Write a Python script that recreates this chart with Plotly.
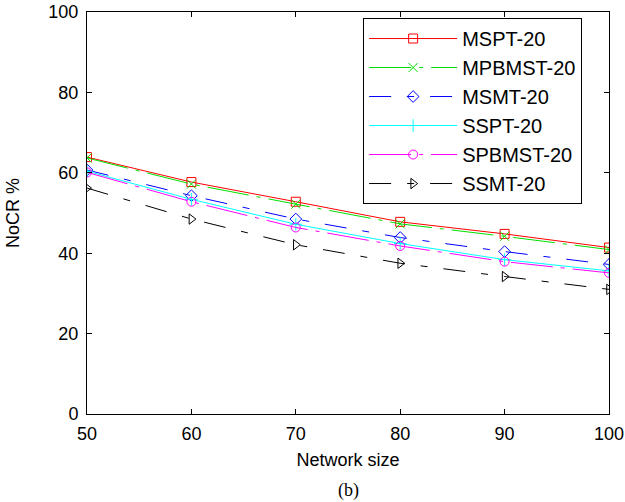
import plotly.graph_objects as go

network_size = [50, 60, 70, 80, 90, 100]
mspt = [63.9, 57.7, 52.8, 47.8, 44.8, 41.4]
mpbmst = [63.7, 57.2, 52.2, 47.3, 44.2, 40.9]
msmt = [60.7, 54.3, 48.5, 43.9, 40.4, 37.2]
sspt = [60.4, 53.4, 47.2, 42.4, 38.4, 35.6]
spbmst = [60.1, 52.8, 46.4, 41.8, 37.9, 35.1]
ssmt = [56.2, 48.5, 42.1, 37.5, 34.2, 31.0]

names = ["MSPT-20", "MPBMST-20", "MSMT-20", "SSPT-20", "SPBMST-20", "SSMT-20"]
series = [mspt, mpbmst, msmt, sspt, spbmst, ssmt]
colors = ["#ff0000", "#00e000", "#0000ff", "#00ffff", "#ff00ff", "#000000"]
symbols = ["square-open", "x-thin-open", "diamond-open", "cross-thin-open", "circle-open", "triangle-right-open"]
dashes = ["solid", "42px,8px,4px,8px", "22px,16px,7px,16px", "solid",
          "42px,8px,4px,8px", "22px,16px,7px,16px"]

fig = go.Figure()
for i, (n, s, c, sym, d) in enumerate(zip(names, series, colors, symbols, dashes)):
    fig.add_trace(go.Scatter(
        x=network_size, y=s, name=n, mode="lines+markers",
        line=dict(color=c, width=1, dash=d),
        marker=dict(symbol=sym, size=9, color=c, line=dict(width=1, color=c)),
        legendgroup="g%d" % i,
    ))

fig.update_layout(
    width=625, height=502,
    margin=dict(l=87, r=16, t=12, b=88, autoexpand=False),
    paper_bgcolor="white", plot_bgcolor="white",
    font=dict(family="Liberation Sans, Arial, sans-serif", color="black", size=18),
    showlegend=True,
    legend=dict(
        x=0.529, y=0.985, xanchor="left", yanchor="top",
        bordercolor="black", borderwidth=1, bgcolor="white",
        font=dict(size=20), itemwidth=88, tracegroupgap=0,
    ),
    xaxis=dict(
        range=[50, 100], tickvals=[50, 60, 70, 80, 90, 100],
        showline=True, linecolor="black", linewidth=1, mirror="ticks",
        ticks="inside", ticklen=5, tickcolor="black", showgrid=False, zeroline=False,
        automargin=False, tickfont=dict(size=18), ticklabelstandoff=3,
        title=dict(text="Network size", font=dict(size=18), standoff=10),
    ),
    yaxis=dict(
        range=[0, 100], tickvals=[0, 20, 40, 60, 80, 100],
        showline=True, linecolor="black", linewidth=1, mirror="ticks",
        ticks="inside", ticklen=5, tickcolor="black", showgrid=False, zeroline=False,
        automargin=False, tickfont=dict(size=18), ticklabelstandoff=4,
        title=dict(text="NoCR %", font=dict(size=18), standoff=24),
    ),
    annotations=[dict(
        text="(b)", xref="paper", yref="paper", x=0.5, y=-0.19,
        xanchor="center", yanchor="middle", showarrow=False,
        font=dict(family="Liberation Serif, Times New Roman, serif", size=18),
    )],
)

fig.write_html(
    "out.html",
    config={"displayModeBar": False},
    post_script="document.body.style.margin='0';document.body.style.overflow='hidden';",
)
